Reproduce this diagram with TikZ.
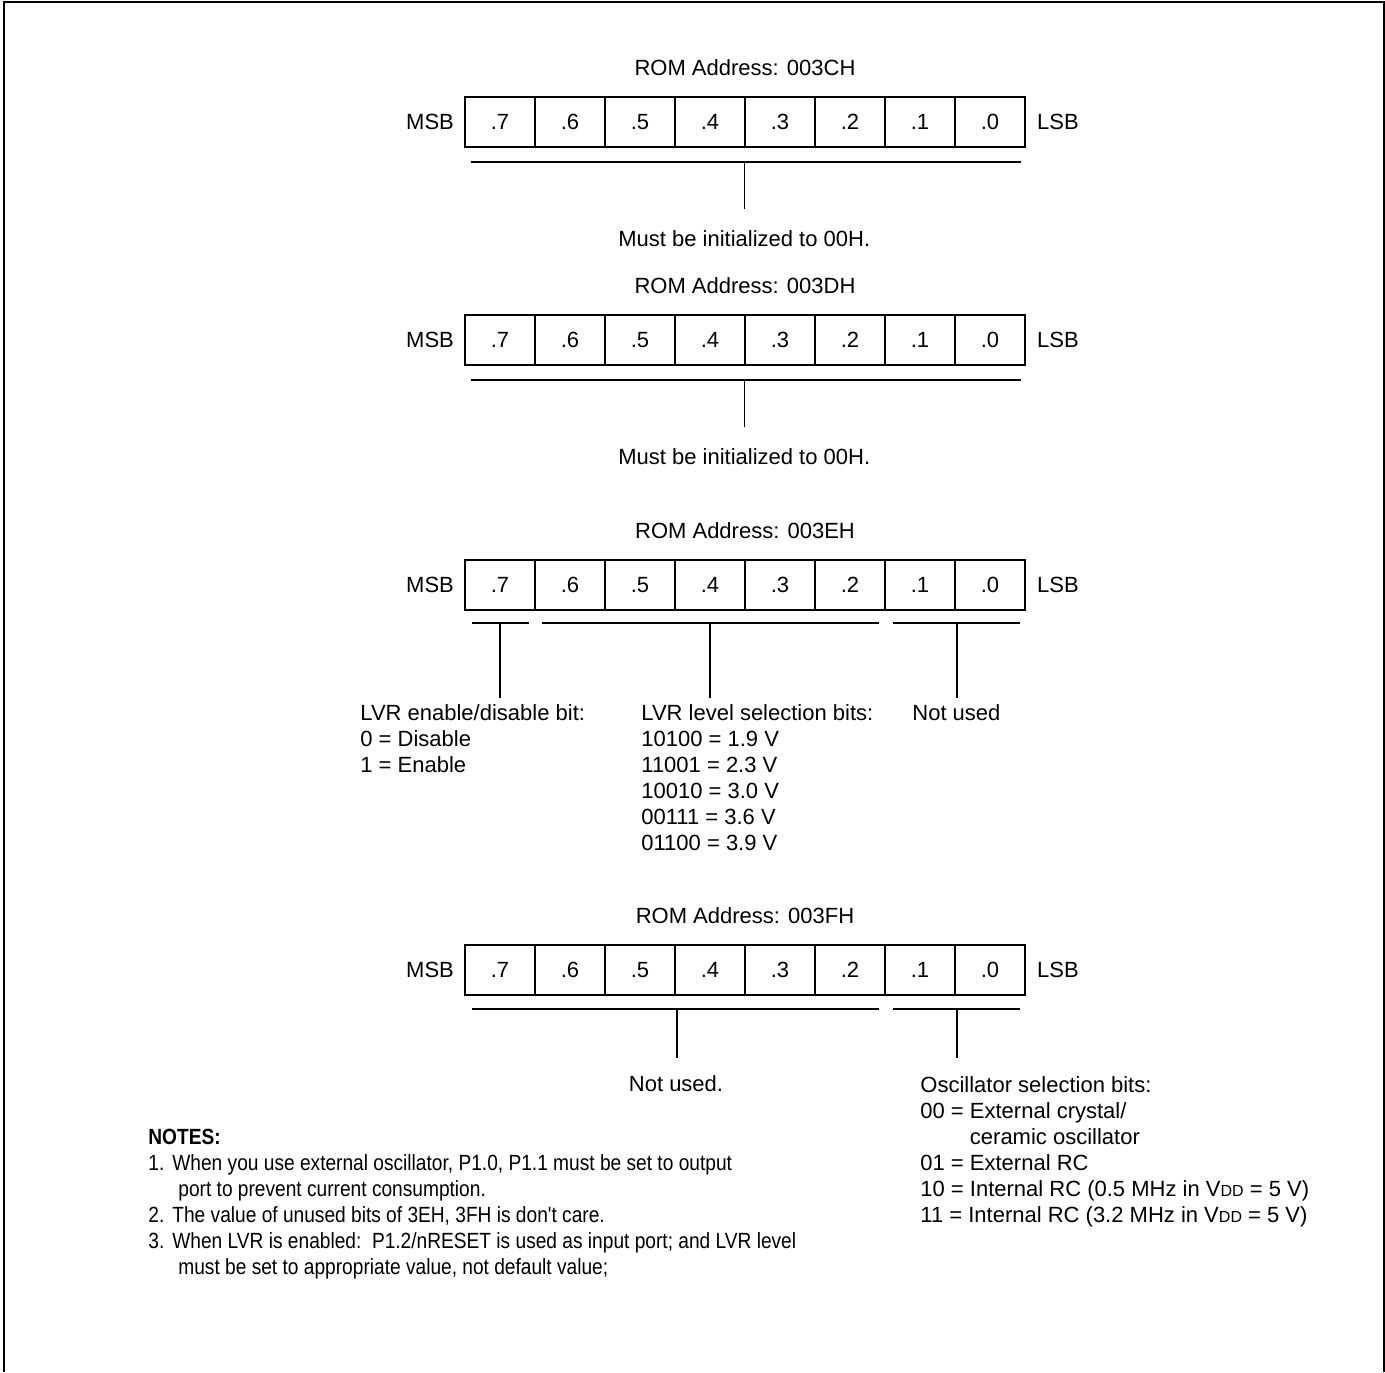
\documentclass[tikz,border=0pt]{standalone}
\usepackage{fontspec}
\setmainfont{Liberation Sans}
\newfontfamily\notefont[FakeStretch=0.87]{Liberation Sans}
\usetikzlibrary{positioning}
\newcommand{\vdd}{V{\fontsize{8}{8}\selectfont DD}}
\begin{document}
\begin{tikzpicture}[x=0.5pt,y=-0.5pt,
    every node/.style={inner sep=0pt, font=\fontsize{11}{13}\selectfont},
    bitcell/.style={draw, line width=0.75pt, minimum width=35pt, minimum height=25pt},
    bline/.style={line width=0.75pt},
    multi/.style={align=left, anchor=north west}]
  \useasboundingbox (0,0) rectangle (1385,1372);
  \draw[line width=1.2pt] (4,1372) -- (4,2) -- (1384,2) -- (1384,1372);
  % the four option bytes
  \foreach \reg/\yc/\addr in {a/122/003CH,b/340/003DH,c/585/003EH,d/970/003FH}{
    \node (\reg t) at (745,\yc-54) {ROM Address: \addr};
    \foreach \b in {7,...,0}
      \node[bitcell] (\reg\b) at ({500+(7-\b)*70},\yc) {.\b};
    \node[left=5pt of \reg7] (\reg m) {MSB};
    \node[right=5.5pt of \reg0] (\reg l) {LSB};
  }
  % 003CH, 003DH
  \foreach \reg in {a,b}{
    \coordinate (\reg s) at ([yshift=-7pt]\reg7.south west -| \reg3.south west);
    \draw[bline] ([xshift=3.5pt,yshift=-7pt]\reg7.south west) -- ([xshift=-2.5pt,yshift=-7pt]\reg0.south east);
    \node (\reg n) at ([yshift=-38.5pt]\reg s) {Must be initialized to 00H.};
    \draw[bline] (\reg s) -- ([yshift=-23.5pt]\reg s);
  }
  % 003EH
  \draw[bline] (472,623) -- (529,623) (542,623) -- (879,623) (893,623) -- (1020,623);
  \draw[bline] (500,623) -- (500,698) (710,623) -- (710,698) (957,623) -- (957,698);
  \node[multi] (c en) at (360,704) {LVR enable/disable bit:\\0 = Disable\\1 = Enable};
  \node[multi] (c lv) at (641,704) {LVR level selection bits:\\10100 = 1.9 V\\11001 = 2.3 V\\10010 = 3.0 V\\00111 = 3.6 V\\01100 = 3.9 V};
  \node[multi] (c nu) at (912,704) {Not used};
  % 003FH
  \draw[bline] (472,1009) -- (879,1009) (893,1009) -- (1020,1009);
  \draw[bline] (677,1009) -- (677,1058) (957,1009) -- (957,1058);
  \node (d nu) at (676,1084) {Not used.};
  \node[multi] (d os) at (920,1076) {Oscillator selection bits:\\00 = External crystal/\\\hphantom{00 = }ceramic oscillator\\01 = External RC\\10 = Internal RC (0.5 MHz in \vdd{} = 5 V)\\11 = Internal RC (3.2 MHz in \vdd{} = 5 V)};
  % notes
  \node[multi, font=\notefont\fontsize{11}{13}\selectfont] (notes) at (148,1129) {\textbf{NOTES:}\\
    \makebox[12pt][l]{1.}When you use external oscillator, P1.0, P1.1 must be set to output\\
    \hspace*{15pt}port to prevent current consumption.\\
    \makebox[12pt][l]{2.}The value of unused bits of 3EH, 3FH is don't care.\\
    \makebox[12pt][l]{3.}When LVR is enabled:\ \ P1.2/nRESET is used as input port; and LVR level\\
    \hspace*{15pt}must be set to appropriate value, not default value;};
\end{tikzpicture}
\end{document}
